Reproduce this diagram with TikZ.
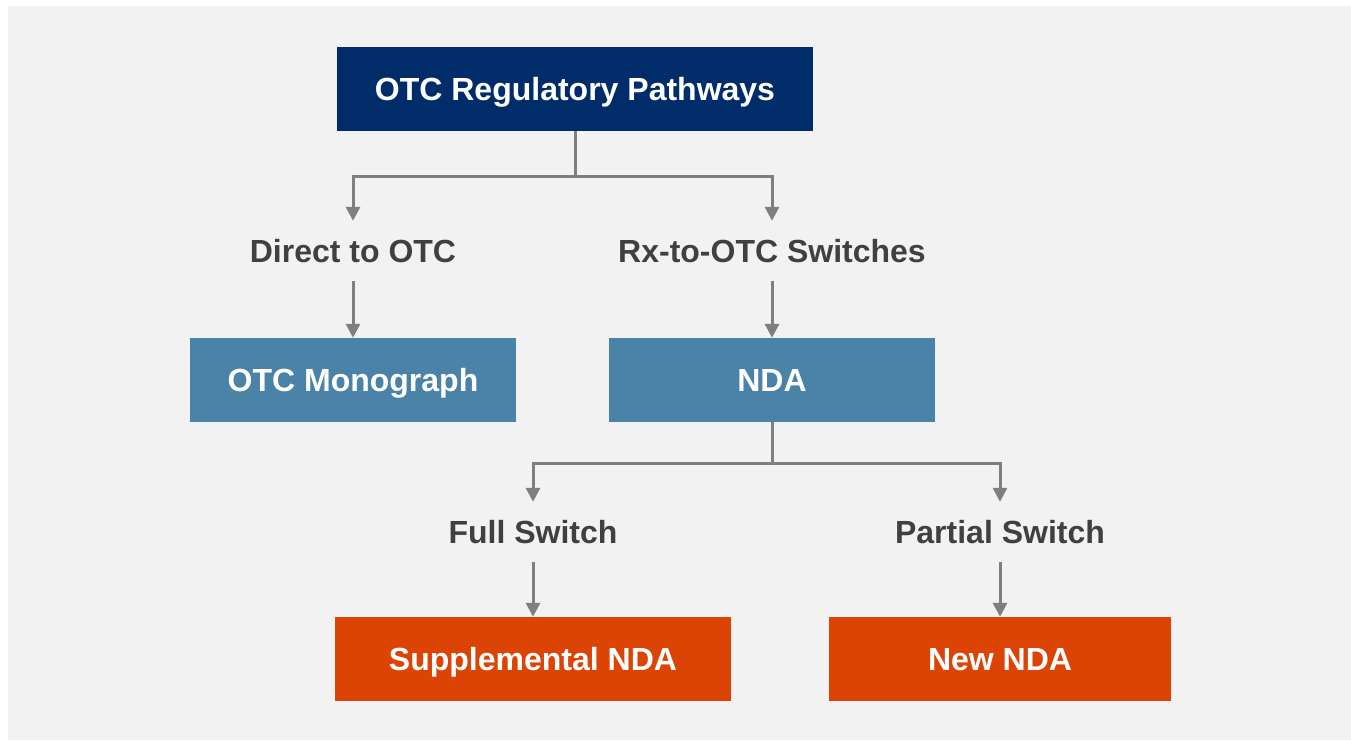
\documentclass[tikz,border=0pt]{standalone}
\usepackage{fontspec}
\setmainfont{Liberation Sans}
\usetikzlibrary{arrows.meta,positioning}
\definecolor{bgGray}{HTML}{F2F2F2}
\definecolor{navyBox}{HTML}{002D6A}
\definecolor{steelBox}{HTML}{4A82A8}
\definecolor{orangeBox}{HTML}{DC4405}
\definecolor{linkGray}{HTML}{7F7F7F}
\definecolor{labelGray}{HTML}{404040}

\begin{document}
\begin{tikzpicture}[x=1pt,y=-1pt,
    every node/.style={font=\fontsize{32}{38}\selectfont\bfseries, text height=23pt, text depth=0pt},
    box/.style={inner sep=0pt, minimum height=84pt, text=white},
    route/.style={inner sep=0pt, minimum height=60pt, text=labelGray},
    link/.style={draw=linkGray, line width=3pt},
    arr/.style={link, -{Triangle[length=14pt,width=14pt]}}]

  \useasboundingbox (0,0) rectangle (1351,740);
  \fill [bgGray] (8,6) rectangle (1351,740);

  % boxes
  \node [box, fill=navyBox, minimum width=476pt] (title) at (575,89) {OTC Regulatory Pathways};
  \node [box, fill=steelBox, minimum width=326pt] (mono) at (353,380) {OTC Monograph};
  \node [box, fill=steelBox, minimum width=326pt] (nda) at (772,380) {NDA};
  \node [box, fill=orangeBox, minimum width=396pt] (supp) at (533,659) {Supplemental NDA};
  \node [box, fill=orangeBox, minimum width=342pt] (newnda) at (1000,659) {New NDA};

  % labels
  \node [route] (direct) at (353,251) {Direct to OTC};
  \node [route] (rxotc) at (772,251) {Rx-to-OTC Switches};
  \node [route] (full) at (533,532) {Full Switch};
  \node [route] (partial) at (1000,532) {Partial Switch};

  % connectors
  \draw [link] (title.south) -- ++(0,45) coordinate (tsplit);
  \draw [arr] (tsplit) -| (direct.north);
  \draw [arr] (tsplit) -| (rxotc.north);
  \draw [arr] (direct.south) -- (mono.north);
  \draw [arr] (rxotc.south) -- (nda.north);

  \draw [link] (nda.south) -- ++(0,41) coordinate (nsplit);
  \draw [arr] (nsplit) -| (full.north);
  \draw [arr] (nsplit) -| (partial.north);
  \draw [arr] (full.south) -- (supp.north);
  \draw [arr] (partial.south) -- (newnda.north);
\end{tikzpicture}
\end{document}
